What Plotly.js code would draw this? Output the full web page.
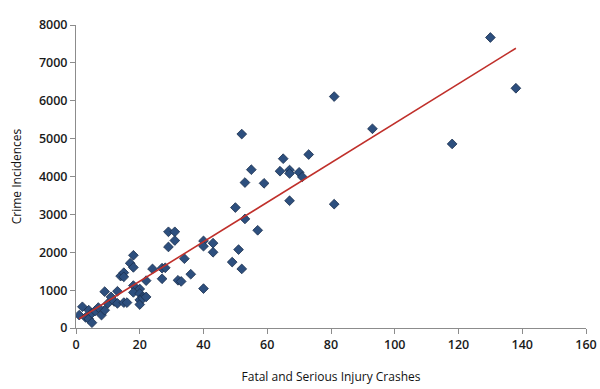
<!DOCTYPE html>
<html>
<head>
<meta charset="utf-8">
<script src="https://cdn.plot.ly/plotly-3.0.1.min.js"></script>
<style>html,body{margin:0;padding:0;background:#fff}#chart{width:600px;height:389px}</style>
</head>
<body>
<div id="chart"></div>
<script>
var crashes = [1,2,3,4,4,5,5,6,8,9,7,9,10,11,12,13,13,15,16,14,15,15,17,18,18,18,18,20,20,21,20,20,21,22,22,24,27,28,27,29,31,31,29,32,33,34,36,40,40,43,43,40,49,50,51,52,52,53,53,55,57,59,64,65,67,67,67,70,71,73,81,81,93,118,130,138];
var crimes = [340,560,280,470,240,140,390,450,340,470,540,960,650,820,700,970,650,670,670,1370,1460,1350,1710,1920,1600,1120,940,1030,910,830,740,620,780,820,1250,1560,1580,1590,1300,2540,2540,2310,2140,1260,1230,1830,1420,2300,2160,2240,2000,1040,1740,3180,2070,1560,5120,3840,2880,4180,2580,3820,4140,4470,4170,4080,3360,4110,3990,4580,6110,3270,5260,4860,7670,6330];
var xTicks = [0,20,40,60,80,100,120,140,160];
var yTicks = [0,1000,2000,3000,4000,5000,6000,7000,8000];

// least-squares linear trendline over the data
var n = crashes.length, sx=0, sy=0, sxx=0, sxy=0;
for (var i=0;i<n;i++){sx+=crashes[i];sy+=crimes[i];sxx+=crashes[i]*crashes[i];sxy+=crashes[i]*crimes[i];}
var slope = (n*sxy - sx*sy)/(n*sxx - sx*sx);
var intercept = (sy - slope*sx)/n;
var xMin = Math.min.apply(null, crashes), xMax = Math.max.apply(null, crashes);
var trendX = [xMin, xMax];
var trendY = trendX.map(function(v){return intercept + slope*v;});

var traces = [
  {x: crashes, y: crimes, type:'scatter', mode:'markers',
   marker:{symbol:'diamond', size:7.5, color:'#2D4F7E', line:{color:'#1B2F4D', width:0.8}},
   hoverinfo:'x+y', showlegend:false},
  {x: trendX, y: trendY, type:'scatter', mode:'lines',
   line:{color:'#C0302B', width:1.6}, hoverinfo:'skip', showlegend:false}
];
var tickFont = {family:'Open Sans, Liberation Sans, Arial, sans-serif', size:12.5, color:'#1a1a1a', weight:600};
var titleFont = {family:'Open Sans, Liberation Sans, Arial, sans-serif', size:12, color:'#111'};
var layout = {
  width:600, height:389,
  margin:{l:76, r:14, t:25, b:61},
  paper_bgcolor:'#fff', plot_bgcolor:'#fff',
  xaxis:{range:[0,160], tickvals:xTicks, ticktext:xTicks.map(String), showgrid:false, zeroline:false,
    showline:true, linecolor:'#8c8c8c', linewidth:1, ticks:'outside', ticklen:5, tickcolor:'#8c8c8c',
    tickfont:tickFont,
    title:{text:'Fatal and Serious Injury Crashes', font:titleFont, standoff:20}},
  yaxis:{range:[0,8000], tickvals:yTicks, ticktext:yTicks.map(String), showgrid:false, zeroline:false,
    showline:true, linecolor:'#8c8c8c', linewidth:1, ticks:'outside', ticklen:5, tickcolor:'#8c8c8c',
    tickfont:tickFont,
    title:{text:'Crime Incidences', font:titleFont, standoff:14}},
  showlegend:false
};
Plotly.newPlot('chart', traces, layout, {displayModeBar:false, staticPlot:true});
</script>
</body>
</html>
